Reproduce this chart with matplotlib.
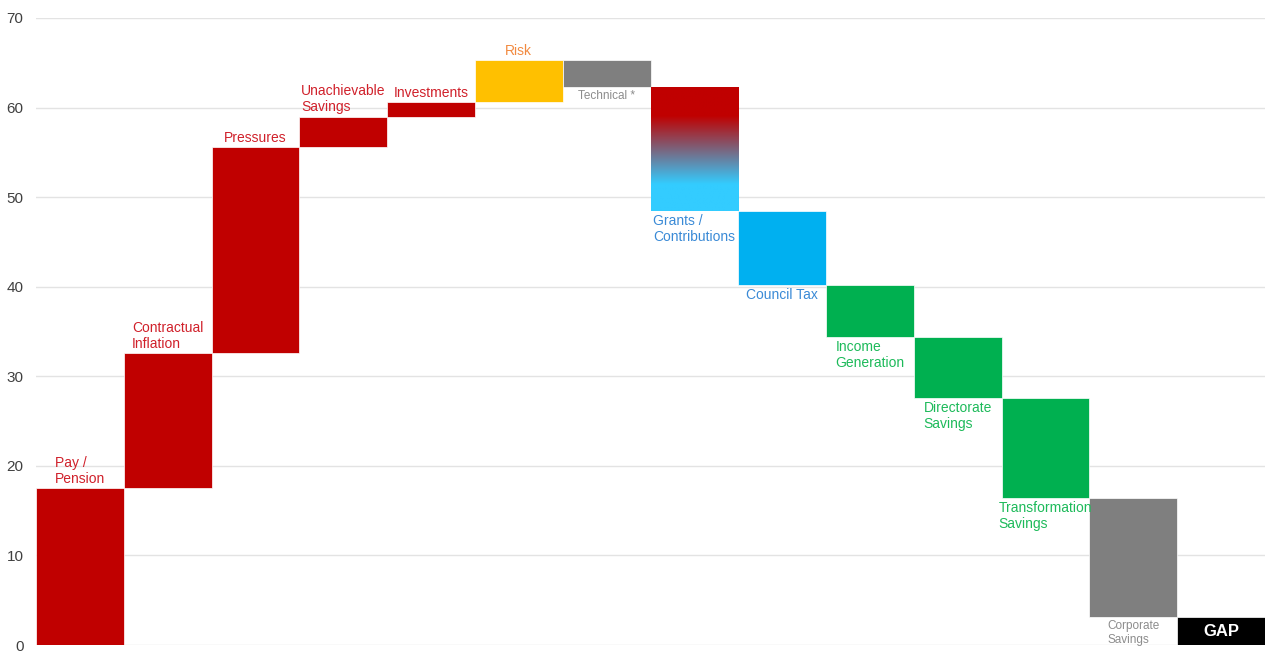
import matplotlib.pyplot as plt
import numpy as np
from matplotlib.colors import LinearSegmentedColormap

plt.rcParams['font.family'] = ['Liberation Sans', 'DejaVu Sans']

labels = ["Pay /\nPension", "Contractual\nInflation", "Pressures", "Unachievable\nSavings",
          "Investments", "Risk", "Technical *", "Grants /\nContributions", "Council Tax",
          "Income\nGeneration", "Directorate\nSavings", "Transformation\nSavings",
          "Corporate\nSavings", "GAP"]
changes = [17.5, 15.1, 23.0, 3.4, 1.6, 4.7, -3.0, -13.9, -8.2, -5.8, -6.8, -11.2, -13.3]
bar_colors = ["#C00000"] * 5 + ["#FFC000", "#7F7F7F", "gradient", "#00B0F0"] + \
             ["#00B050"] * 3 + ["#7F7F7F", "#000000"]
text_colors = ["#D0202A"] * 5 + ["#F28A40", "#8C8C8C", "#3A8AD6", "#3A8AD6"] + \
              ["#1DBA5A"] * 3 + ["#8C8C8C", "white"]
yticks = [0, 10, 20, 30, 40, 50, 60, 70]

fig = plt.figure(figsize=(12.65, 6.51), dpi=100)
ax = fig.add_axes([0.0285, 0.0092, 0.9715, 0.9632])

ends = np.cumsum(changes)
starts = ends - np.array(changes)
gap = ends[-1]
bottoms = list(np.minimum(starts, ends)) + [0]
heights = list(np.abs(changes)) + [gap]
x = np.arange(len(labels))

grad = LinearSegmentedColormap.from_list(
    "grad", [(0, "#33CCFF"), (0.25, "#33CCFF"), (0.73, "#C00000"), (1, "#C00000")])

for i in x:
    c = bar_colors[i]
    if c == "gradient":
        # gradient fill, clipped to the bar rectangle
        rect = ax.bar(i, heights[i], bottom=bottoms[i], width=1.0, facecolor='none',
                      edgecolor='none', zorder=3)[0]
        im = ax.imshow(np.linspace(0, 1, 256).reshape(-1, 1), cmap=grad, aspect='auto',
                       origin='lower', interpolation='bilinear',
                       extent=(i - 0.5, i + 0.5, bottoms[i] - 1, bottoms[i] + heights[i] + 1),
                       zorder=2)
        im.set_clip_path(rect)
    else:
        ax.bar(i, heights[i], bottom=bottoms[i], width=1.0, color=c,
               edgecolor='white', linewidth=0.5, zorder=2)

for i in x:
    lab = labels[i]
    small = lab in ("Technical *", "Corporate\nSavings")
    fs = 8.5 if small else 10
    if lab == "GAP":
        ax.text(i, gap / 2, lab, ha='center', va='center', color='white',
                fontsize=12, fontweight='bold', zorder=4)
    elif changes[i] > 0:
        ax.annotate(lab, (i, bottoms[i] + heights[i]), xytext=(0, 1.5),
                    textcoords='offset points', ha='center', va='bottom',
                    multialignment='left', color=text_colors[i], fontsize=fs,
                    linespacing=1.2)
    else:
        ax.annotate(lab, (i, bottoms[i]), xytext=(0, -2),
                    textcoords='offset points', ha='center', va='top',
                    multialignment='left', color=text_colors[i], fontsize=fs,
                    linespacing=1.2, annotation_clip=False)

ax.set_xlim(-0.5, len(labels) - 0.5)
ax.set_ylim(0, 70)
ax.set_yticks(yticks)
ax.set_xticks([])
ax.grid(axis='y', color='#E3E3E3', linewidth=1, zorder=0)
ax.set_axisbelow(True)
for s in ax.spines.values():
    s.set_visible(False)
ax.tick_params(axis='y', length=0, pad=9, labelsize=11, labelcolor='#404040')

fig.savefig("out.png", dpi=100)
